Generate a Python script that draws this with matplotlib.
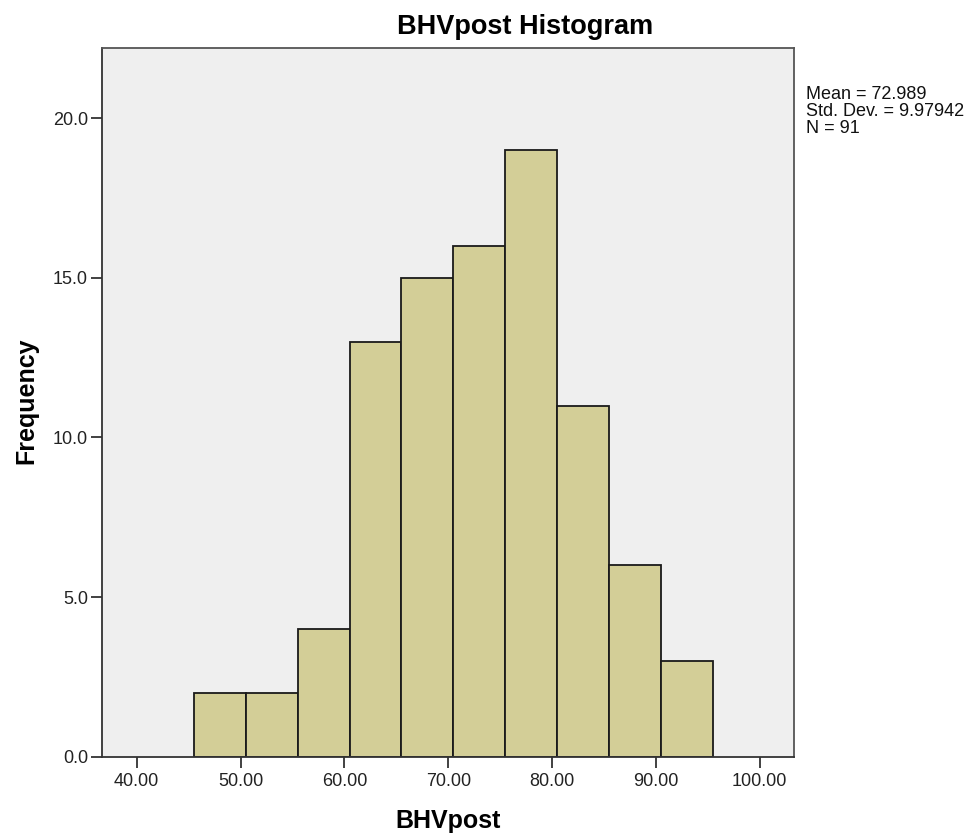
import matplotlib
matplotlib.use("Agg")
import matplotlib.pyplot as plt
from matplotlib.ticker import FormatStrFormatter, MultipleLocator

plt.rcParams['font.family'] = ['Liberation Sans', 'DejaVu Sans']

# bins of width 5 starting at these values
bin_starts = [45.5, 50.5, 55.5, 60.5, 65.5, 70.5, 75.5, 80.5, 85.5, 90.5]
counts = [2, 2, 4, 13, 15, 16, 19, 11, 6, 3]
bin_width = 5.0

stats_lines = ["Mean = 72.989", "Std. Dev. = 9.97942", "N = 91"]

fig = plt.figure(figsize=(9.76, 8.4), dpi=100)
ax = fig.add_axes([0.1045, 0.0992, 0.709, 0.844])
ax.set_facecolor('#efefef')

ax.bar(bin_starts, counts, width=bin_width, align='edge',
       color='#d3ce97', edgecolor='#1a1a1a', linewidth=1.3, zorder=2)

ax.set_xlim(36.66, 103.3)
ax.set_ylim(0, 22.21)
ax.xaxis.set_major_locator(MultipleLocator(10))
ax.yaxis.set_major_locator(MultipleLocator(5))
ax.xaxis.set_major_formatter(FormatStrFormatter('%.2f'))
ax.yaxis.set_major_formatter(FormatStrFormatter('%.1f'))
ax.tick_params(axis='both', direction='out', length=8, width=1.3,
               color='#333333', labelsize=13, labelcolor='#222222')
ax.tick_params(axis='y', pad=2)
ax.tick_params(axis='x', pad=4)

for s in ax.spines.values():
    s.set_color('#333333')
    s.set_linewidth(1.3)
ax.spines['top'].set_color('#555555')
ax.spines['right'].set_color('#555555')

# axis titles placed like the SPSS output
fig.text(448 / 976, 1 - 821 / 840, 'BHVpost', fontsize=18,
         fontweight='bold', ha='center', va='center')
fig.text(26 / 976, 1 - 401 / 840, 'Frequency', fontsize=18,
         fontweight='bold', ha='center', va='center', rotation=90)

fig.text(525 / 976, 1 - 27 / 840, 'BHVpost Histogram', fontsize=19.5,
         fontweight='bold', ha='center', va='center')

fig.text(806 / 976, 1 - 86 / 840, "\n".join(stats_lines), fontsize=13,
         ha='left', va='top', linespacing=1.0, color='#111111')

fig.savefig('out.png', dpi=100)
